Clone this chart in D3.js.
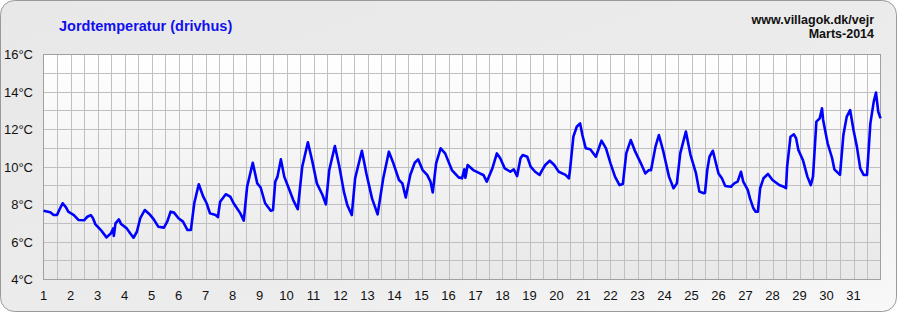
<!DOCTYPE html>
<html><head><meta charset="utf-8">
<script src="https://cdn.jsdelivr.net/npm/d3@7"></script>
<style>body{margin:0;background:#fff}svg{display:block}text{font-family:Arial,"Liberation Sans",sans-serif}</style>
</head><body><svg id="c" width="897" height="312"></svg>
<script>
const title = "Jordtemperatur (drivhus)";
const siteText = "www.villagok.dk/vejr";
const periodText = "Marts-2014";
const days = d3.range(1, 32);
const yTicks = [4, 6, 8, 10, 12, 14, 16];
// hours since 1 March 00:00
const hours = [0,6,9,12,14,17,20,22,27,31,36,39,42,44,46,51,56,60,62,62.5,64,67,69,74,77,80,83,86,90,94,98,102,107,110,113,116,120,124,128,131,134,138,142,145,148,153,155,157,162,166,169,175,178,181,186,190,193,197,202,204,206,208,211,214,218,222,226,230,235,239,243,248,251,254,259,263,267,270,274,277,283,287,292,297,302,307,311,316,319,322,326,330,333,337,341,344,346,349,353,357,363,369,372,374,375,377,382,388,391,394,399,403,406,410,415,418,421,424,426,430,433,437,441,443,446,450,454,458,464,467,468,471,474,477,479,482,486,491,496,500,504,508,512,515,518,522,526,531,535,538,540,544,547,551,556,560,563,566,571,575,580,583,587,588,590,592,595,597,600,603,606,611,614,617,620,622,626,628,631,633,635,637,640,644,648,654,658,660,661,664,667,669,671,675,679,682,684,687,690,692,693,697,701,703,708,711,714,717,720,723,726,729,732,735,738,740,742,744];
const temps = [7.64,7.56,7.41,7.41,7.68,8.04,7.82,7.59,7.41,7.15,7.13,7.32,7.41,7.24,6.93,6.61,6.22,6.44,6.7,6.3,6.97,7.18,6.93,6.7,6.44,6.2,6.52,7.24,7.68,7.47,7.18,6.79,6.74,7.06,7.59,7.54,7.24,7.06,6.61,6.61,8.04,9.05,8.39,8.04,7.5,7.41,7.3,8.12,8.52,8.39,8.04,7.5,7.11,8.92,10.2,9.1,8.88,8.04,7.64,7.68,9.19,9.46,10.38,9.46,8.84,8.21,7.72,9.99,11.29,10.26,9.1,8.48,7.98,9.81,11.09,9.99,8.66,7.95,7.41,9.37,10.84,9.63,8.3,7.45,9.37,10.79,10.17,9.28,9.1,8.35,9.55,10.2,10.38,9.81,9.55,9.19,8.62,10.17,10.97,10.7,9.81,9.42,9.37,9.85,9.4,10.08,9.81,9.63,9.55,9.19,9.9,10.7,10.44,9.9,9.72,9.85,9.49,10.44,10.61,10.52,9.99,9.72,9.55,9.78,10.08,10.31,10.08,9.72,9.55,9.37,9.81,11.59,12.12,12.3,11.68,10.97,10.92,10.52,11.38,10.97,10.17,9.46,9.01,9.07,10.7,11.41,10.79,10.17,9.63,9.81,9.8,11.06,11.68,10.79,9.46,8.84,9.1,10.7,11.86,10.65,9.63,8.66,8.57,8.6,9.81,10.52,10.84,10.35,9.63,9.37,8.96,8.92,9.1,9.19,9.72,9.19,8.75,8.3,7.77,7.59,7.59,8.84,9.37,9.6,9.28,9.01,8.92,8.84,9.99,11.59,11.72,11.5,10.88,10.35,9.46,9.01,9.46,12.39,12.57,13.1,12.48,11.24,10.44,9.85,9.55,11.68,12.66,13.01,11.95,11.06,9.9,9.55,9.55,12.3,13.46,13.94,12.92,12.57];

const svg = d3.select("#c");
const defs = svg.append("defs");
const bg = defs.append("linearGradient").attr("id","bg").attr("x1",0).attr("y1",0).attr("x2",1).attr("y2",1);
bg.append("stop").attr("offset","0%").attr("stop-color","#e8e8e8");
bg.append("stop").attr("offset","60%").attr("stop-color","#ececec");
bg.append("stop").attr("offset","100%").attr("stop-color","#f8f8f8");
const pg = defs.append("linearGradient").attr("id","pg").attr("x1",0).attr("y1",0).attr("x2",0).attr("y2",1);
pg.append("stop").attr("offset","0%").attr("stop-color","#ffffff");
pg.append("stop").attr("offset","100%").attr("stop-color","#e8e8e8");

svg.append("rect").attr("x",0.5).attr("y",0.5).attr("width",896).attr("height",311)
  .attr("rx",14).attr("ry",14).attr("fill","url(#bg)").attr("stroke","#9a9a9a");

const L = 43.5, R = 880.5, T = 54, B = 279;
const x = d3.scaleLinear().domain([0, 744]).range([L, R]);
const y = d3.scaleLinear().domain([4, 16]).range([B, T]);

svg.append("rect").attr("x",L).attr("y",T).attr("width",R-L).attr("height",B-T).attr("fill","url(#pg)");

const g = svg.append("g");
g.selectAll("line.v").data(d3.range(12, 744, 12)).join("line")
  .attr("x1",d=>Math.round(x(d))+0.5).attr("x2",d=>Math.round(x(d))+0.5).attr("y1",T).attr("y2",B)
  .attr("stroke","#c0c0c0").attr("stroke-width",1);
g.selectAll("line.h").data(d3.range(5, 16, 1)).join("line")
  .attr("y1",d=>Math.round(y(d))+0.5).attr("y2",d=>Math.round(y(d))+0.5).attr("x1",L).attr("x2",R)
  .attr("stroke","#c0c0c0").attr("stroke-width",1);
svg.append("rect").attr("x",L).attr("y",T+0.5).attr("width",R-L).attr("height",B-T)
  .attr("fill","none").attr("stroke","#a0a0a0");

const line = d3.line().x((d,i)=>x(hours[i])).y(d=>y(d)).curve(d3.curveLinear);
svg.append("path").datum(temps).attr("d",line).attr("fill","none")
  .attr("stroke","#0000ff").attr("stroke-width",2.6).attr("stroke-linejoin","round");

// y labels
svg.selectAll("text.yl").data(yTicks).join("text")
  .attr("x",33).attr("y",d=>y(d)+5).attr("text-anchor","end")
  .attr("font-size",13).attr("fill","#111").text(d=>d+"°C");
// x labels
svg.selectAll("text.xl").data(days).join("text")
  .attr("x",d=>x((d-1)*24)).attr("y",300).attr("text-anchor","middle")
  .attr("font-size",13).attr("fill","#111").text(d=>d);

svg.append("text").attr("x",59).attr("y",31).attr("font-size",14.5).attr("font-weight","bold")
  .attr("fill","#1010ee").text(title);
svg.append("text").attr("x",874).attr("y",24).attr("text-anchor","end").attr("font-size",12.5)
  .attr("font-weight","bold").attr("fill","#111").text(siteText);
svg.append("text").attr("x",874).attr("y",38).attr("text-anchor","end").attr("font-size",12.5)
  .attr("font-weight","bold").attr("fill","#111").text(periodText);
</script></body></html>
